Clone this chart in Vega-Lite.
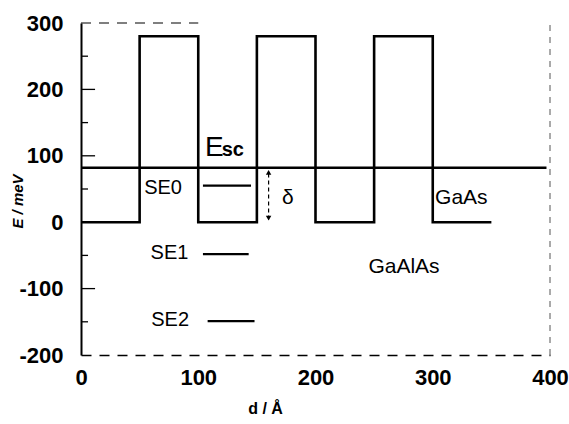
{
  "$schema": "https://vega.github.io/schema/vega-lite/v6.json",
  "width": 469,
  "height": 332,
  "autosize": {"type": "none"},
  "padding": {"left": 81, "top": 23, "right": 19, "bottom": 69},
  "background": "white",
  "config": {"view": {"stroke": null}, "font": "Liberation Sans"},
  "datasets": {
    "wave": [
      {"i": 0, "x": 0, "E": 0}, {"i": 1, "x": 50, "E": 0}, {"i": 2, "x": 50, "E": 280}, {"i": 3, "x": 100, "E": 280},
      {"i": 4, "x": 100, "E": 0}, {"i": 5, "x": 150, "E": 0}, {"i": 6, "x": 150, "E": 280}, {"i": 7, "x": 200, "E": 280},
      {"i": 8, "x": 200, "E": 0}, {"i": 9, "x": 250, "E": 0}, {"i": 10, "x": 250, "E": 280}, {"i": 11, "x": 300, "E": 280},
      {"i": 12, "x": 300, "E": 0}, {"i": 13, "x": 350, "E": 0}
    ],
    "esc": [{"x": 0, "x2": 397, "E": 82}],
    "levels": [
      {"name": "SE0", "x": 104, "x2": 145, "E": 55, "lx": 70, "ly": 51},
      {"name": "SE1", "x": 104, "x2": 143, "E": -48, "lx": 75.5, "ly": -46},
      {"name": "SE2", "x": 108, "x2": 148, "E": -149, "lx": 76, "ly": -148}
    ],
    "majorTicks": [{"E": -100}, {"E": 0}, {"E": 100}, {"E": 200}],
    "minorTicks": [{"E": -150}, {"E": -50}, {"E": 50}, {"E": 150}, {"E": 250}],
    "delta": [{"x": 160, "E": 4, "E2": 78}],
    "arrowUp": [{"x": 160, "E": 75}],
    "arrowDown": [{"x": 160, "E": 6}],
    "leftLabels": [
      {"text": "GaAs", "x": 302, "E": 36}
    ],
    "centerLabels": [
      {"text": "GaAlAs", "x": 275.5, "E": -68},
      {"text": "δ", "x": 176.5, "E": 36}
    ],
    "escE": [{"text": "E", "x": 105.8, "E": 99}],
    "escSub": [{"text": "sc", "x": 120, "E": 99}],
    "frameTop": [{"x": 0, "x2": 100, "E": 300}],
    "frameRight": [{"x": 400, "E": -200, "E2": 300}]
  },
  "layer": [
    {
      "data": {"name": "wave"},
      "mark": {"type": "line", "color": "black", "strokeWidth": 2.6, "strokeJoin": "miter", "interpolate": "linear"},
      "encoding": {
        "x": {
          "field": "x", "type": "quantitative",
          "scale": {"domain": [0, 400], "nice": false, "zero": false},
          "axis": {
            "values": [0, 100, 200, 300, 400], "ticks": false, "grid": false,
            "labelFontSize": 22, "labelFontWeight": "bold", "labelColor": "black",
            "labelPadding": 12, "labelFlush": false, "labelOverlap": false,
            "domainColor": "black", "domainWidth": 1.5, "domainDash": [10, 8],
            "title": "d / Å", "titleFontSize": 16, "titleFontWeight": "bold", "titleColor": "black",
            "titleX": 184, "titleY": 58, "titleBaseline": "alphabetic", "titleAnchor": "middle", "titleAlign": "center"
          }
        },
        "y": {
          "field": "E", "type": "quantitative",
          "scale": {"domain": [-200, 300], "nice": false, "zero": false},
          "axis": {
            "values": [-200, -100, 0, 100, 200, 300], "ticks": false, "grid": false,
            "labelFontSize": 22, "labelFontWeight": "bold", "labelColor": "black",
            "labelPadding": 18, "labelFlush": false, "labelOverlap": false,
            "labelExpr": "replace(datum.label, '−', '-')",
            "domainColor": "black", "domainWidth": 2,
            "title": "E / meV", "titleFontSize": 15, "titleFontWeight": "bold", "titleFontStyle": "italic", "titleColor": "black",
            "titleX": -64, "titleY": 178, "titleAngle": -90, "titleAnchor": "middle", "titleAlign": "center", "titleBaseline": "middle"
          }
        },
        "order": {"field": "i", "type": "quantitative"}
      }
    },
    {
      "data": {"name": "frameTop"},
      "mark": {"type": "rule", "color": "black", "strokeWidth": 1.2, "strokeDash": [10, 8]},
      "encoding": {"x": {"field": "x", "type": "quantitative"}, "x2": {"field": "x2"}, "y": {"field": "E", "type": "quantitative"}}
    },
    {
      "data": {"name": "frameRight"},
      "mark": {"type": "rule", "color": "#555555", "strokeWidth": 1, "strokeDash": [6, 6]},
      "encoding": {"x": {"field": "x", "type": "quantitative"}, "y": {"field": "E", "type": "quantitative"}, "y2": {"field": "E2"}}
    },
    {
      "data": {"name": "majorTicks"},
      "mark": {"type": "rule", "color": "black", "strokeWidth": 1.3},
      "encoding": {"x": {"datum": 0, "type": "quantitative"}, "x2": {"datum": 12}, "y": {"field": "E", "type": "quantitative"}}
    },
    {
      "data": {"name": "minorTicks"},
      "mark": {"type": "rule", "color": "black", "strokeWidth": 1.3},
      "encoding": {"x": {"datum": 0, "type": "quantitative"}, "x2": {"datum": 6}, "y": {"field": "E", "type": "quantitative"}}
    },
    {
      "data": {"name": "esc"},
      "mark": {"type": "rule", "color": "black", "strokeWidth": 2.6},
      "encoding": {"x": {"field": "x", "type": "quantitative"}, "x2": {"field": "x2"}, "y": {"field": "E", "type": "quantitative"}}
    },
    {
      "data": {"name": "levels"},
      "mark": {"type": "rule", "color": "black", "strokeWidth": 2.2},
      "encoding": {"x": {"field": "x", "type": "quantitative"}, "x2": {"field": "x2"}, "y": {"field": "E", "type": "quantitative"}}
    },
    {
      "data": {"name": "levels"},
      "mark": {"type": "text", "color": "black", "fontSize": 20, "align": "center", "baseline": "middle"},
      "encoding": {"x": {"field": "lx", "type": "quantitative"}, "y": {"field": "ly", "type": "quantitative"}, "text": {"field": "name"}}
    },
    {
      "data": {"name": "delta"},
      "mark": {"type": "rule", "color": "black", "strokeWidth": 1.2, "strokeDash": [4, 3]},
      "encoding": {"x": {"field": "x", "type": "quantitative"}, "y": {"field": "E", "type": "quantitative"}, "y2": {"field": "E2"}}
    },
    {
      "data": {"name": "arrowUp"},
      "mark": {"type": "point", "shape": "triangle-up", "filled": true, "color": "black", "size": 30, "opacity": 1},
      "encoding": {"x": {"field": "x", "type": "quantitative"}, "y": {"field": "E", "type": "quantitative"}}
    },
    {
      "data": {"name": "arrowDown"},
      "mark": {"type": "point", "shape": "triangle-down", "filled": true, "color": "black", "size": 30, "opacity": 1},
      "encoding": {"x": {"field": "x", "type": "quantitative"}, "y": {"field": "E", "type": "quantitative"}}
    },
    {
      "data": {"name": "leftLabels"},
      "mark": {"type": "text", "color": "black", "fontSize": 21, "align": "left", "baseline": "middle"},
      "encoding": {"x": {"field": "x", "type": "quantitative"}, "y": {"field": "E", "type": "quantitative"}, "text": {"field": "text"}}
    },
    {
      "data": {"name": "centerLabels"},
      "mark": {"type": "text", "color": "black", "fontSize": 21, "align": "center", "baseline": "middle"},
      "encoding": {"x": {"field": "x", "type": "quantitative"}, "y": {"field": "E", "type": "quantitative"}, "text": {"field": "text"}}
    },
    {
      "data": {"name": "escE"},
      "mark": {"type": "text", "color": "black", "fontSize": 28, "align": "left", "baseline": "alphabetic"},
      "encoding": {"x": {"field": "x", "type": "quantitative"}, "y": {"field": "E", "type": "quantitative"}, "text": {"field": "text"}}
    },
    {
      "data": {"name": "escSub"},
      "mark": {"type": "text", "color": "black", "fontSize": 20, "fontWeight": "bold", "align": "left", "baseline": "alphabetic"},
      "encoding": {"x": {"field": "x", "type": "quantitative"}, "y": {"field": "E", "type": "quantitative"}, "text": {"field": "text"}}
    }
  ]
}
